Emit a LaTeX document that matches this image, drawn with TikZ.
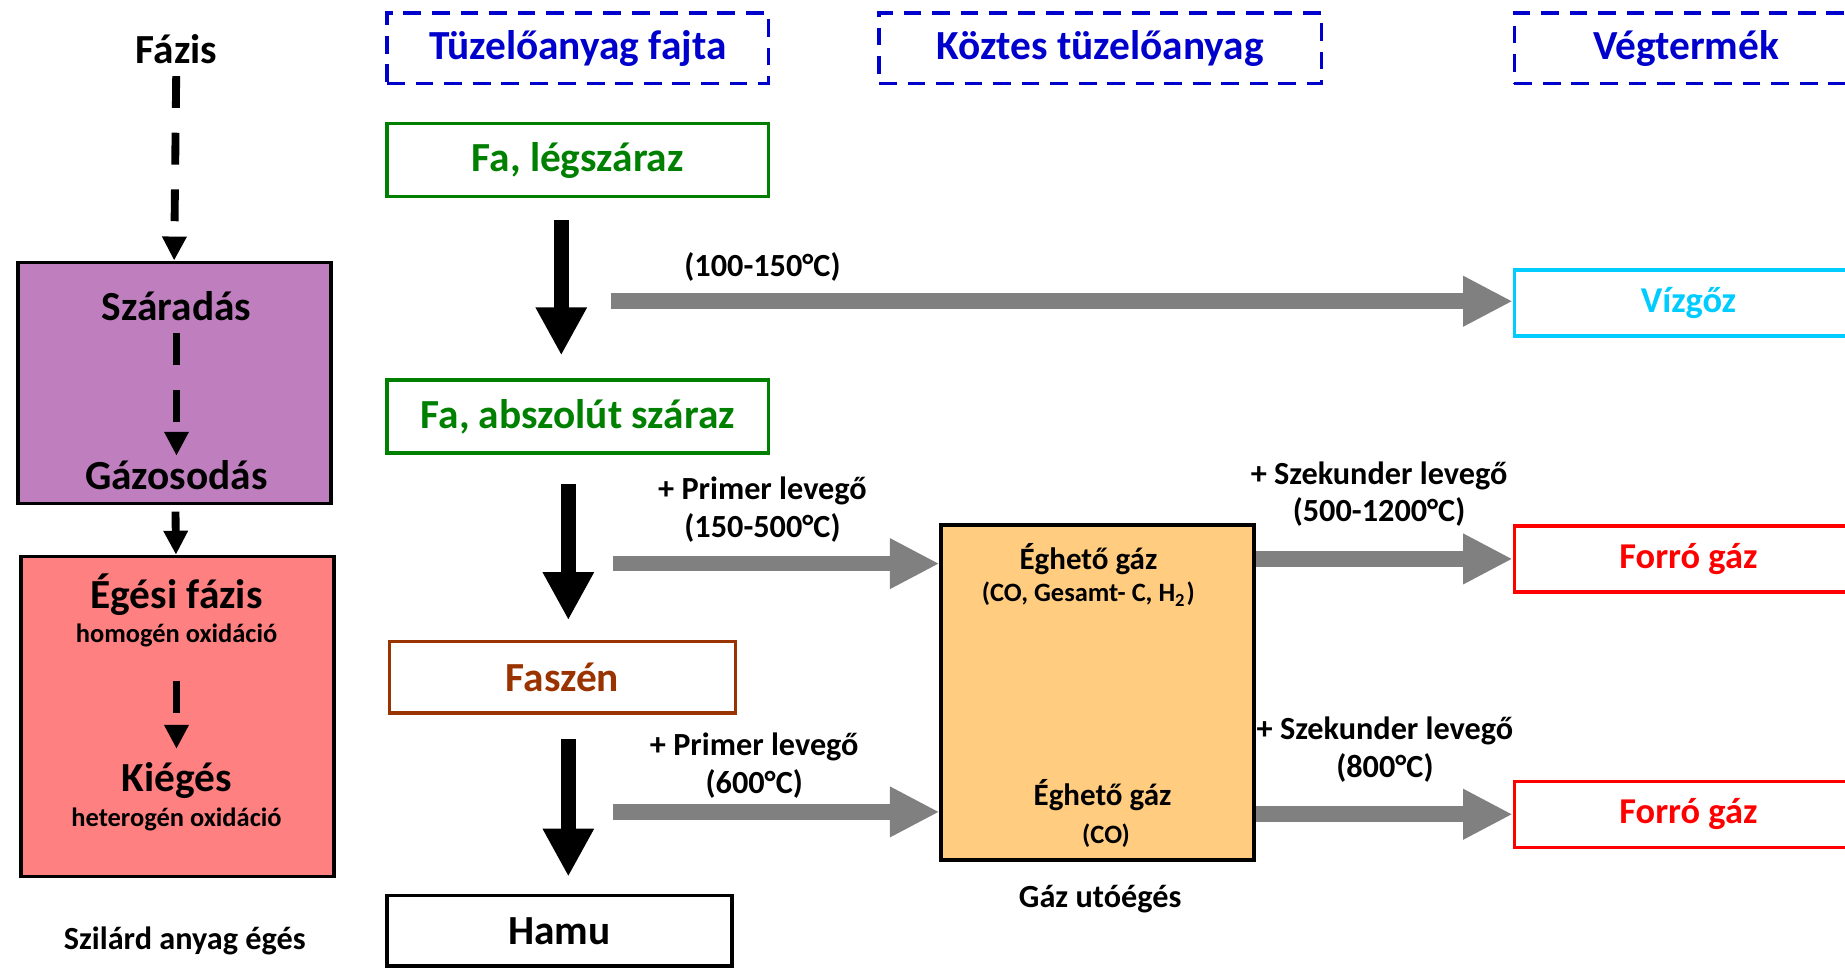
\documentclass[tikz,border=0pt]{standalone}
\usepackage{fontspec}
\setmainfont{Carlito}
\usepackage{tikz}
\usetikzlibrary{arrows.meta, positioning, calc}
\definecolor{hdrblue}{RGB}{0,0,204}
\definecolor{fuelgreen}{RGB}{0,128,0}
\definecolor{charbrown}{RGB}{153,51,0}
\definecolor{steamcyan}{RGB}{0,204,255}
\definecolor{hotred}{RGB}{255,0,0}
\definecolor{dryfill}{RGB}{191,127,191}
\definecolor{burnfill}{RGB}{255,128,128}
\definecolor{gasfill}{RGB}{255,204,128}
\definecolor{flowgrey}{RGB}{128,128,128}
\tikzset{
  hdrbox/.style={rectangle, draw=hdrblue, line width=0.9pt,
    dash pattern=on 4.3pt off 2.6pt, text=hdrblue, minimum height=0.6cm,
    font=\fontsize{10}{12}\selectfont\bfseries},
  fuelbox/.style={rectangle, draw, line width=0.8pt, minimum width=3.24cm,
    minimum height=0.62cm, font=\fontsize{10}{12}\selectfont\bfseries},
  endbox/.style={rectangle, draw, line width=0.8pt, minimum width=2.96cm,
    minimum height=0.56cm, font=\fontsize{8.8}{10.5}\selectfont\bfseries},
  phasebox/.style={rectangle, draw=black, line width=0.9pt, minimum width=2.66cm},
  bigtxt/.style={font=\fontsize{10}{12}\selectfont\bfseries, inner sep=1pt},
  gastxt/.style={font=\fontsize{7.5}{9}\selectfont\bfseries, inner sep=1pt},
  smalltxt/.style={font=\fontsize{6.4}{7.7}\selectfont\bfseries, inner sep=1pt},
  flowlbl/.style={font=\fontsize{7.8}{9.1}\selectfont\bfseries, align=center,
    inner sep=1pt},
  blkflow/.style={-{Triangle[length=11.6pt, width=11.6pt]}, line width=3.7pt},
  greyflow/.style={-{Triangle[length=12pt, width=11.4pt]}, draw=flowgrey,
    line width=3.8pt},
  phaseflow/.style={-{Triangle[length=5.8pt, width=5.6pt]}, line width=1.9pt},
  phasedash/.style={phaseflow, dash pattern=on 7.7pt off 6pt},
}
\begin{document}
\begin{tikzpicture}
\useasboundingbox (0,0) rectangle (15.68,-8.22);

% column headers
\node[bigtxt] (fazis) at (1.50,-0.42) {Fázis};
\node[hdrbox, minimum width=3.24cm] (hdrfuel) at (4.91,-0.41) {Tüzelőanyag fajta};
\node[hdrbox, minimum width=3.76cm] (hdrmid) at (9.35,-0.41) {Köztes tüzelőanyag};
\node[hdrbox, minimum width=2.92cm] (hdrend) at (14.33,-0.41) {Végtermék};

% phases
\node[phasebox, fill=dryfill, minimum height=2.05cm] (szbox) at (1.48,-3.255) {};
\node[phasebox, fill=burnfill, minimum height=2.72cm] (egbox) at (1.51,-6.09) {};
\node[bigtxt] (szaradas) at (1.50,-2.60) {Száradás};
\node[bigtxt] (gazosodas) at (1.50,-4.04) {Gázosodás};
\node[bigtxt] (egesi) at (1.50,-5.05) {Égési fázis};
\node[smalltxt] (homogen) at (1.50,-5.40) {homogén oxidáció};
\node[bigtxt] (kieges) at (1.50,-6.63) {Kiégés};
\node[smalltxt] (heterogen) at (1.50,-6.96) {heterogén oxidáció};
\node[flowlbl] (szilard) at (1.57,-8.00) {Szilárd anyag égés};

% fuels
\node[fuelbox, draw=fuelgreen, text=fuelgreen] (fa1) at (4.91,-1.36) {Fa, légszáraz};
\node[fuelbox, draw=fuelgreen, text=fuelgreen] (fa2) at (4.91,-3.54) {Fa, abszolút száraz};
\node[fuelbox, draw=charbrown, text=charbrown, minimum width=2.94cm,
  minimum height=0.61cm] (faszen) at (4.78,-5.755) {Faszén};
\node[fuelbox, minimum width=2.93cm, minimum height=0.60cm] (hamu) at (4.755,-7.91) {Hamu};

% gas after-burning
\node[phasebox, fill=gasfill, minimum height=2.85cm] (gas) at (9.33,-5.885) {};
\node[gastxt] (eg1) at (9.25,-4.75) {Éghető gáz};
\node[smalltxt] (eg1sub) at (9.25,-5.05) {(CO, Gesamt- C, H$_{\mathbf 2}$)};
\node[gastxt] (eg2) at (9.37,-6.76) {Éghető gáz};
\node[smalltxt] (eg2sub) at (9.40,-7.10) {(CO)};
\node[flowlbl] (utoeges) at (9.35,-7.64) {Gáz utóégés};

% end products
\node[endbox, draw=steamcyan, text=steamcyan] (vizgoz) at (14.35,-2.575) {Vízgőz};
\node[endbox, draw=hotred, text=hotred] (forro1) at (14.35,-4.75) {Forró gáz};
\node[endbox, draw=hotred, text=hotred] (forro2) at (14.35,-6.92) {Forró gáz};

% flow labels
\node[flowlbl] (l1) at (6.48,-2.27) {(100-150°C)};
\node[flowlbl] (l2) at (6.48,-4.33) {+ Primer levegő\\(150-500°C)};
\node[flowlbl] (l3) at (6.41,-6.505) {+ Primer levegő\\(600°C)};
\node[flowlbl] (l4) at (11.72,-4.20) {+ Szekunder levegő\\(500-1200°C)};
\node[flowlbl] (l5) at (11.77,-6.37) {+ Szekunder levegő\\(800°C)};

% phase arrows
\draw[phasedash, shorten <=1.7pt] (fazis) -- (szbox.north);
\draw[phasedash, shorten <=1.9pt] (szaradas) -- (gazosodas);
\draw[phaseflow, shorten <=1.5pt] (szbox) -- (egbox);
\draw[phasedash, shorten <=7pt, shorten >=2pt] (homogen) -- (kieges);

% fuel arrows
\coordinate (b1s) at (4.77,-1.87);
\coordinate (b1e) at (4.77,-3.02);
\coordinate (b2s) at (4.83,-4.11);
\coordinate (b2e) at (4.83,-5.27);
\coordinate (b3s) at (4.83,-6.28);
\coordinate (b3e) at (4.83,-7.45);
\draw[blkflow] (b1s) -- (b1e);
\draw[blkflow] (b2s) -- (b2e);
\draw[blkflow] (b3s) -- (b3e);

% gas arrows
\coordinate (g1s) at (5.19,-2.56);
\coordinate (g2s) at (5.21,-4.79);
\coordinate (g3s) at (5.21,-6.90);
\draw[greyflow] (g1s) -- (g1s -| vizgoz.west);
\draw[greyflow] (g2s) -- (g2s -| gas.west);
\draw[greyflow] (g3s) -- (g3s -| gas.west);
\draw[greyflow] (gas.east |- forro1) -- (forro1.west);
\draw[greyflow] (gas.east |- forro2) -- (forro2.west);
\end{tikzpicture}
\end{document}
